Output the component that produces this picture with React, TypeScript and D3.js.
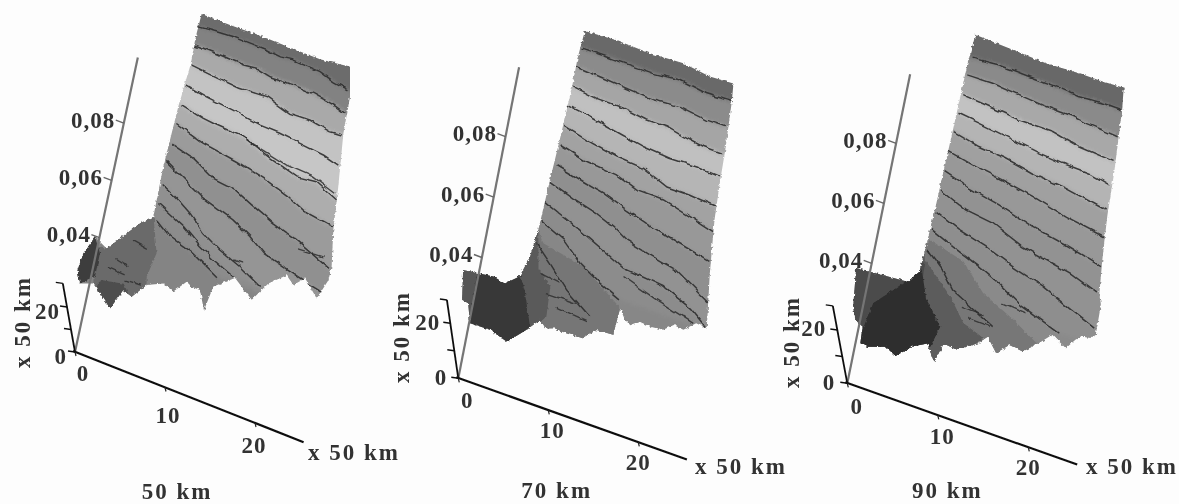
import React, { useMemo } from "react";
import * as d3 from "d3";

type Pt = [number, number]; // [x (axis units, ×50 km), z (×0.01)]

// ---------- Panel 50 km ----------
const OUTLINE_50: Pt[] = [[5.59,12.51],[8.74,12.52],[12.79,12.56],[16.49,12.55],[18.71,12.56],[21.95,12.7],[22.61,11.73],[22.73,10.46],[23.37,8.68],[23.81,7.22],[24.44,6.01],[24.4,5.54],[23.6,4.8],[21.97,5.31],[20.91,4.94],[20.02,5.17],[18.32,4.67],[16.97,3.93],[14.79,4.42],[12.75,3.87],[12.3,2.99],[11.45,3.59],[10.53,3.59],[9.91,3.69],[8.76,3.2],[7.55,3.33],[5.88,3.07],[4.6,2.5],[3.59,2.61],[2.64,1.86],[1.28,2.21],[0.38,2.44],[-0.99,2.27],[-1.55,2.67],[-1.31,3.29],[-0.47,3.97],[0.98,3.74],[2.7,4.49],[3.85,4.98],[5.07,5.36],[5,7.1],[5.25,9.47],[5.55,10.66],[5.5,11.83]];
const CONTOURS_50: Pt[][] = [
  [[5.5,12.06],[7.5,12.13],[9.3,12.18],[11.2,12.18],[13,12.18],[14.6,12.13],[16,12.2],[19,12.16],[20.6,12.01],[22.3,11.93]],
  [[5.6,11.43],[8,11.43],[11,11.4],[12.4,11.46],[14,11.36],[16.5,11.39],[18.8,11.37],[21.1,11.26],[22.5,11.13]],
  [[5.7,10.74],[8.5,10.66],[11.1,10.6],[14.1,10.67],[16.8,10.43],[19,10.47],[21.3,10.35],[22.6,10.39]],
  [[5.5,10.02],[7.9,9.9],[10.9,9.81],[14,9.67],[16.2,9.66],[18.5,9.59],[21.2,9.51],[22.9,9.38]],
  [[5.5,9.33],[8,9.17],[9.6,9.12],[12.6,9.08],[15.8,8.73],[18.9,8.47],[21,8.56],[23.5,8.23]],
  [[5.4,8.66],[7,8.51],[8.6,8.36],[12.4,8.2],[15.5,8],[18.3,7.75],[20.3,7.48],[23.7,7.33]],
  [[5.3,7.96],[7.9,7.76],[10.4,7.36],[12.7,7.29],[14.7,7.02],[17.5,6.67],[20.3,6.43],[24.3,5.94]],
  [[5.2,7.31],[7.3,6.98],[9.8,6.59],[13.3,6.27],[15.4,5.95],[17.2,5.58],[19.5,5.4],[21.8,5.22],[24,5.09]],
  [[5.2,6.54],[7.1,6.25],[8.8,5.93],[10.6,5.46],[12.6,5.13],[15,4.85],[17.5,4.46]],
  [[5.3,5.85],[8.4,5.42],[10.5,4.99],[12.2,4.73],[14.6,4.44]],
  [[5.5,5.3],[7.2,4.93],[10,4.69],[12.9,4.23]],
];
const STREAKS_50: Pt[][] = [
  [[12.2,9.1],[14.5,8.92],[17.6,8.72],[20.6,8.68],[23.2,8.43]],
  [[20.5,6.16],[23.4,6.23]],
  [[14.2,4.98],[15.3,5]],
  [[2.1,3.53],[3.6,3.43]],
  [[1.4,3.15],[3.4,3.12]],
  [[3.6,2.96],[5.4,3.01]],
  [[3.5,4.35],[5.2,4.27]],
];
const REGIONS_50: Pt[][] = [
  [[5.1,5.36],[6.2,4.22],[5.7,3.34],[6.4,2.26],[1.1,1.37],[-0.4,3.63],[1,3.74],[3.85,4.98]],
  [[1,2.64],[3.5,2.82],[4.5,2.43],[2.7,1.7],[0.6,2.12]],
  [[-0.47,3.97],[0.4,3.5],[0.4,2.68],[-1,2.27],[-1.55,2.67],[-1.31,3.29]],
];
const REGION_SHADES_50 = ["#6a6a6a", "#4d4d4d", "#3e3e3e"];
const BAND_SHADES_50 = ["#6c6c6c","#828282","#a9a9a9","#c3c3c3","#c6c6c6","#adadad","#9b9b9b","#909090","#959595","#909090","#8c8c8c","#848484"];

// ---------- Panel 70 km ----------
const OUTLINE_70: Pt[] = [[6.1,12.15],[9.6,12.21],[13.3,12.17],[17,12.23],[20,12.11],[22.6,12.16],[22.8,11.58],[23.1,10.01],[23.2,8.97],[23.4,7.73],[24,6.02],[24.8,4.28],[23.6,4.32],[22.4,3.98],[21.3,4.02],[20.3,3.76],[18.9,3.71],[17.7,3.75],[16.8,3.54],[16.1,3.65],[15.4,3.95],[15.2,3.05],[13.4,3.02],[12,2.6],[10.3,2.58],[9,2.61],[8,2.5],[7.3,2.71],[6.1,2.25],[4.3,1.67],[2.3,1.85],[0.1,1.83],[-0.5,2.43],[-1.2,2.47],[-1.7,3.41],[1.6,3.54],[2.9,3.45],[4.3,3.83],[5,4.56],[5.3,5.47],[5.5,7.15],[5.7,8.5],[5.9,10.28],[5.9,11.28]];
const CONTOURS_70: Pt[][] = [
  [[6.1,11.58],[8.9,11.59],[11.5,11.59],[14.1,11.59],[17,11.68],[20,11.55],[22.8,11.58]],
  [[5.9,10.95],[9,10.89],[12,10.82],[14.6,10.77],[17.5,10.85],[20.6,10.73],[22.7,10.74]],
  [[5.9,10.31],[8.7,10.19],[11.7,10.18],[14.3,10.07],[16.5,10.08],[18.5,9.96],[20.7,9.87],[22.9,9.86]],
  [[5.8,9.66],[8.4,9.55],[11.4,9.38],[14.5,9.21],[17.5,9.14],[20.5,9.17],[23.1,9.12]],
  [[5.7,8.99],[8.5,8.79],[12,8.6],[15,8.54],[17.8,8.22],[20.3,8.23],[23.4,8.15]],
  [[5.8,8.34],[8.6,8.14],[12.3,8.04],[14.7,7.79],[17.7,7.78],[20.8,7.56],[23.5,7.35]],
  [[5.9,7.68],[9,7.47],[11.3,7.33],[14.1,7.06],[16.4,6.87],[19.9,6.63],[23.8,6.38]],
  [[5.5,7.1],[8.3,6.84],[11,6.63],[13,6.41],[14.7,6.13],[17.4,5.93],[20.5,5.75],[24.4,5.12]],
  [[5.4,6.42],[7.6,6.17],[10.1,5.87],[12.9,5.5],[14.9,5.23],[19.4,5.1],[22.7,4.72],[24.6,4.32]],
  [[5.3,5.8],[8.1,5.44],[10.3,4.9],[12.8,4.5],[15.2,4.21]],
  [[5.4,5.04],[7.2,4.57],[9.5,3.92],[12.4,3.36]],
];
const STREAKS_70: Pt[][] = [
  [[15.1,4.97],[19,4.61],[23.3,4.29]],
  [[6.4,4.15],[8.6,4.06]],
  [[7.5,3.6],[10.8,3.62]],
  [[8.8,3.25],[12.2,3.16]],
];
const REGIONS_70: Pt[][] = [
  [[5.3,5.47],[6.1,5.12],[10.7,4.84],[15.6,3.92],[15.2,2.5],[5,1.5],[5,5]],
  [[5.3,5.47],[6.1,4.29],[7.7,3.85],[7.9,2.88],[6.5,2.23],[4,2],[4,4]],
  [[-2.2,4],[-0.2,3.7],[0,1.6],[-2.2,2]],
  [[-0.2,3.6],[1.6,3.7],[2.9,3.6],[4.3,3.9],[5.1,3.46],[6.4,2.39],[4.3,1.5],[0,1.6]],
];
const REGION_SHADES_70 = ["#767676", "#5a5a5a", "#565656", "#373737"];
const BAND_SHADES_70 = ["#696969","#8b8b8b","#a5a5a5","#c0c0c0","#b5b5b5","#a2a2a2","#989898","#8f8f8f","#929292","#8c8c8c","#878787","#7f7f7f"];

// ---------- Panel 90 km ----------
const OUTLINE_90: Pt[] = [[5.9,12.25],[10,12.19],[13.7,12.14],[17.4,12.19],[20,12.19],[22.3,12.23],[22.6,11.53],[23.1,9.47],[23.3,8.05],[23.7,6.65],[24.1,5.57],[24.5,5.23],[24.6,4.23],[24.1,4.08],[23.1,4.02],[22.6,3.86],[21.8,3.49],[20.1,3.76],[18.9,3.35],[17.4,2.92],[15.9,2.97],[14.7,2.58],[13.5,2.99],[12.6,2.67],[10.5,2.25],[9.1,2.3],[8.5,1.62],[7.4,2.12],[5.9,1.86],[4.4,1.38],[3.2,1.56],[1.3,1.36],[0.5,1.39],[0.4,1.93],[-0.5,2.06],[-1,2.45],[-1.5,3.68],[4.1,3.82],[5.1,4.26],[5.2,4.78],[5.4,6.47],[5.5,7.92],[5.6,9.38],[5.7,11.28]];
const CONTOURS_90: Pt[][] = [
  [[6.1,11.49],[9,11.57],[12.3,11.54],[15.3,11.52],[17.9,11.47],[20.4,11.52],[22.5,11.52]],
  [[5.9,10.91],[8.7,10.93],[11.6,10.86],[14.6,10.79],[17.6,10.78],[19.1,10.71],[21.4,10.67],[22.7,10.64]],
  [[5.8,10.24],[8.4,10.18],[12.2,10.08],[15.9,10.09],[18.9,9.91],[22.8,9.83]],
  [[5.8,9.62],[8.5,9.53],[11.9,9.39],[14.9,9.27],[17.6,9.21],[20.5,9.19],[23,9.04]],
  [[5.7,9],[8.6,8.81],[11.6,8.74],[14.7,8.57],[18.4,8.47],[23,8.23]],
  [[5.6,8.33],[8.7,8.15],[12.1,8.01],[15.2,7.85],[19,7.59],[23.4,7.39]],
  [[5.6,7.65],[8.5,7.41],[11.9,7.22],[15.8,6.91],[19.6,6.7],[23.7,6.42]],
  [[5.6,7.04],[8.6,6.69],[11.6,6.58],[15.2,6.18],[17.9,6.02],[20.9,5.85],[23.9,5.55]],
  [[5.5,6.31],[8.3,6],[11.4,5.77],[14.6,5.45],[18.1,5.16],[21.3,4.77],[24.3,4.43]],
  [[5.5,5.71],[8,5.41],[11.1,5.08],[13.5,4.78],[16.4,4.32],[20.8,3.89]],
  [[5.5,5.03],[7.4,4.58],[8.9,4.06],[10.9,3.78],[13.8,3.36]],
];
const STREAKS_90: Pt[][] = [
  [[10.2,3.65],[12.6,3.63]],
  [[11.1,3.35],[13.5,3.33]],
  [[14.4,4.21],[17,4.15]],
];
const REGIONS_90: Pt[][] = [
  [[5.5,5.37],[9.4,5.07],[12.1,4.3],[15.8,3.8],[18.7,3.32],[18,1],[5,1],[5,5]],
  [[5.2,4.9],[5.4,4.7],[8.8,3.83],[10.7,3.15],[13.1,2.9],[10.6,2],[6,1],[5,3]],
  [[-2.2,4.2],[5.5,4.6],[6,1],[-2.2,1]],
  [[0.3,1.59],[1,2.78],[2.8,3.41],[5.3,4.35],[6.4,3.46],[8.4,2.78],[7.8,2.05],[4.9,1.41],[1,1]],
];
const REGION_SHADES_90 = ["#777777", "#5c5c5c", "#4c4c4c", "#2e2e2e"];
const BAND_SHADES_90 = ["#686868","#8a8a8a","#a8a8a8","#c2c2c2","#b4b4b4","#a0a0a0","#989898","#929292","#929292","#8e8e8e","#8a8a8a","#848484"];

// ---------- Axes ----------
const Z_TICKS = [4, 6, 8];
const Z_TICK_LABELS = ["0,04", "0,06", "0,08"];
const X_TICKS = [0, 10, 20];
const Y_TICKS = [0, 10, 20];
const AXIS_LABEL = "x 50 km";
const PANEL_TITLES = ["50 km", "70 km", "90 km"];
const Z_AXIS_MAX = 10.3;
const X_AXIS_MAX = 25.4;
const Y_AXIS_MAX = [30.5, 28.5, 29];

// Layout of the oblique projection, per panel
const ORIGINS: Pt[] = [[75, 352], [458.3, 378.3], [847.3, 383.3]];
const X_VEC: Pt[] = [[9, 3.55], [9, 3.2], [9.05, 3.2]];
const Z_VEC: Pt[] = [[6.1, -28.6], [5.9, -30.2], [6.1, -30]];
const Y_VEC: Pt[] = [[-0.4, -2.25], [-0.4, -2.75], [-0.5, -2.67]];
const X_LABEL_OFFSETS: Pt[][] = [[[8, 21], [3, 27.5], [-1, 22]], [[9, 22], [4, 20], [0, 20]], [[9.4, 22.7], [4.5, 21.4], [0, 20.4]]];
const Y_LABEL_END: Pt[] = [[-7, 4], [-10, -1], [-11, -1]];
const END_LABELS: Pt[] = [[308, 452], [695, 466.7], [1086, 466.7]];
const TITLE_POS: Pt[] = [[177, 491], [556.7, 490.7], [947.3, 490.7]];
const SIDE_LABEL_POS: Pt[] = [[22, 322], [401.7, 337], [791.7, 342]];

const OUTLINES = [OUTLINE_50, OUTLINE_70, OUTLINE_90];
const CONTOURS = [CONTOURS_50, CONTOURS_70, CONTOURS_90];
const STREAKS = [STREAKS_50, STREAKS_70, STREAKS_90];
const REGIONS = [REGIONS_50, REGIONS_70, REGIONS_90];
const REGION_SHADES = [REGION_SHADES_50, REGION_SHADES_70, REGION_SHADES_90];
const BAND_SHADES = [BAND_SHADES_50, BAND_SHADES_70, BAND_SHADES_90];

const FONT = "'Liberation Serif', serif";
const FONT_SIZE = 23;

function Panel({ i }: { i: number }) {
  const [ox, oy] = ORIGINS[i];
  const xsx = d3.scaleLinear().domain([0, 1]).range([0, X_VEC[i][0]]);
  const xsy = d3.scaleLinear().domain([0, 1]).range([0, X_VEC[i][1]]);
  const zsx = d3.scaleLinear().domain([0, 1]).range([0, Z_VEC[i][0]]);
  const zsy = d3.scaleLinear().domain([0, 1]).range([0, Z_VEC[i][1]]);
  const ysx = d3.scaleLinear().domain([0, 1]).range([0, Y_VEC[i][0]]);
  const ysy = d3.scaleLinear().domain([0, 1]).range([0, Y_VEC[i][1]]);
  const px = (x: number, z: number, y = 0) => ox + xsx(x) + zsx(z) + ysx(y);
  const py = (x: number, z: number, y = 0) => oy + xsy(x) + zsy(z) + ysy(y);
  const line = d3.line<Pt>().x((d) => px(d[0], d[1])).y((d) => py(d[0], d[1]));
  const closed = (pts: Pt[]) => line(pts) + "Z";

  const below = (c: Pt[]) => {
    const first = c[0];
    const last = c[c.length - 1];
    const pts: Pt[] = [[-6, first[1]], ...c, [40, last[1]], [40, -6], [-6, -6]];
    return closed(pts);
  };

  const axisStyle = { stroke: "#111", fill: "none" } as const;
  const txt = { fontFamily: FONT, fontWeight: 700, fontSize: FONT_SIZE, fill: "#333", letterSpacing: 1 } as const;

  return (
    <g>
      <defs>
        <clipPath id={`sheet-${i}`}>
          <path d={closed(OUTLINES[i])} />
        </clipPath>
      </defs>
      <g filter="url(#scan)">
        <g clipPath={`url(#sheet-${i})`}>
          <g filter="url(#bandBlur)">
            <path d={closed(OUTLINES[i])} fill={BAND_SHADES[i][0]} stroke={BAND_SHADES[i][0]} strokeWidth={12} />
            {CONTOURS[i].map((c, k) => (
              <path key={k} d={below(c)} fill={BAND_SHADES[i][k + 1]} />
            ))}
          </g>
          {REGIONS[i].map((r, k) => (
            <path key={k} d={closed(r)} fill={REGION_SHADES[i][k]} />
          ))}
        </g>
      </g>
      <g filter="url(#wobble)">
        <g clipPath={`url(#sheet-${i})`}>
          {CONTOURS[i].map((c, k) => (
            <path key={k} d={line(c)!} fill="none" stroke="#2e2e2e" strokeWidth={1.5} strokeOpacity={0.9} />
          ))}
          {STREAKS[i].map((c, k) => (
            <path key={k} d={line(c)!} fill="none" stroke="#2e2e2e" strokeWidth={1.4} strokeOpacity={0.85} />
          ))}
        </g>
      </g>
      <g filter="url(#soft)">
        {/* z axis */}
        <line x1={px(0, 0)} y1={py(0, 0)} x2={px(0, Z_AXIS_MAX)} y2={py(0, Z_AXIS_MAX)} stroke="#757575" strokeWidth={2.2} />
        {Z_TICKS.map((t) => (
          <line key={t} x1={px(0, t) - 8} y1={py(0, t) - 3} x2={px(0, t)} y2={py(0, t)} stroke="#666" strokeWidth={1.4} />
        ))}
        {/* x axis */}
        <line x1={px(0, 0) - 2} y1={py(0, 0) - 1} x2={px(X_AXIS_MAX, 0)} y2={py(X_AXIS_MAX, 0)} {...axisStyle} strokeWidth={2.2} />
        {X_TICKS.map((t) => (
          <line key={t} x1={px(t, 0)} y1={py(t, 0)} x2={px(t, 0) + 1} y2={py(t, 0) + 4} stroke="#222" strokeWidth={1.2} />
        ))}
        {/* y axis */}
        <line x1={px(0, 0)} y1={py(0, 0)} x2={px(0, 0, Y_AXIS_MAX[i])} y2={py(0, 0, Y_AXIS_MAX[i])} {...axisStyle} strokeWidth={1.8} />
        {[...Y_TICKS, Y_AXIS_MAX[i]].map((t) => (
          <line key={t} x1={px(0, 0, t)} y1={py(0, 0, t)} x2={px(0, 0, t) - 7} y2={py(0, 0, t) - 1} {...axisStyle} strokeWidth={1.5} />
        ))}
      </g>
      <g filter="url(#soft)">
        {Z_TICKS.map((t, k) => (
          <text key={t} x={px(0, t) - 8.5} y={py(0, t) - 3} textAnchor="end" dominantBaseline="central" {...txt}>
            {Z_TICK_LABELS[k]}
          </text>
        ))}
        {X_TICKS.map((t, k) => (
          <text key={t} x={px(t, 0) + X_LABEL_OFFSETS[i][k][0]} y={py(t, 0) + X_LABEL_OFFSETS[i][k][1]} textAnchor="middle" dominantBaseline="central" {...txt}>
            {t}
          </text>
        ))}
        {Y_TICKS.filter((t) => t !== 10).map((t) => (
          <text key={t} x={px(0, 0, t) + Y_LABEL_END[i][0] + (t === 0 ? -1 : 0)} y={py(0, 0, t) + Y_LABEL_END[i][1]} textAnchor="end" dominantBaseline="central" {...txt}>
            {t}
          </text>
        ))}
        <text x={END_LABELS[i][0]} y={END_LABELS[i][1]} dominantBaseline="central" {...txt} letterSpacing={2}>
          {AXIS_LABEL}
        </text>
        <text x={TITLE_POS[i][0]} y={TITLE_POS[i][1]} textAnchor="middle" dominantBaseline="central" {...txt} letterSpacing={2}>
          {PANEL_TITLES[i]}
        </text>
        <text
          transform={`translate(${SIDE_LABEL_POS[i][0]},${SIDE_LABEL_POS[i][1]}) rotate(-90)`}
          textAnchor="middle"
          dominantBaseline="central"
          {...txt}
          letterSpacing={2}
        >
          {AXIS_LABEL}
        </text>
      </g>
    </g>
  );
}

export default function App() {
  const panels = useMemo(() => PANEL_TITLES.map((_, i) => i), []);
  return (
    <svg
      width={1179}
      height={504}
      viewBox="0 0 1179 504"
      style={{ position: "absolute", left: 0, top: 0, background: "#fdfdfd" }}
    >
      <defs>
        <filter id="scan" x="0" y="0" width="1179" height="504" filterUnits="userSpaceOnUse">
          <feTurbulence type="fractalNoise" baseFrequency="0.3" numOctaves={2} seed={7} result="n" />
          <feDisplacementMap in="SourceGraphic" in2="n" scale={3.5} xChannelSelector="R" yChannelSelector="G" />
          <feGaussianBlur stdDeviation={0.45} />
        </filter>
        <filter id="wobble" x="0" y="0" width="1179" height="504" filterUnits="userSpaceOnUse">
          <feTurbulence type="fractalNoise" baseFrequency="0.09" numOctaves={2} seed={3} result="n" />
          <feDisplacementMap in="SourceGraphic" in2="n" scale={5} xChannelSelector="R" yChannelSelector="G" />
          <feGaussianBlur stdDeviation={0.35} />
        </filter>
        <filter id="bandBlur" x="0" y="0" width="1179" height="504" filterUnits="userSpaceOnUse">
          <feGaussianBlur stdDeviation={2.2} />
        </filter>
        <filter id="soft" x="0" y="0" width="1179" height="504" filterUnits="userSpaceOnUse">
          <feGaussianBlur stdDeviation={0.35} />
        </filter>
      </defs>
      {panels.map((i) => (
        <Panel key={i} i={i} />
      ))}
    </svg>
  );
}
